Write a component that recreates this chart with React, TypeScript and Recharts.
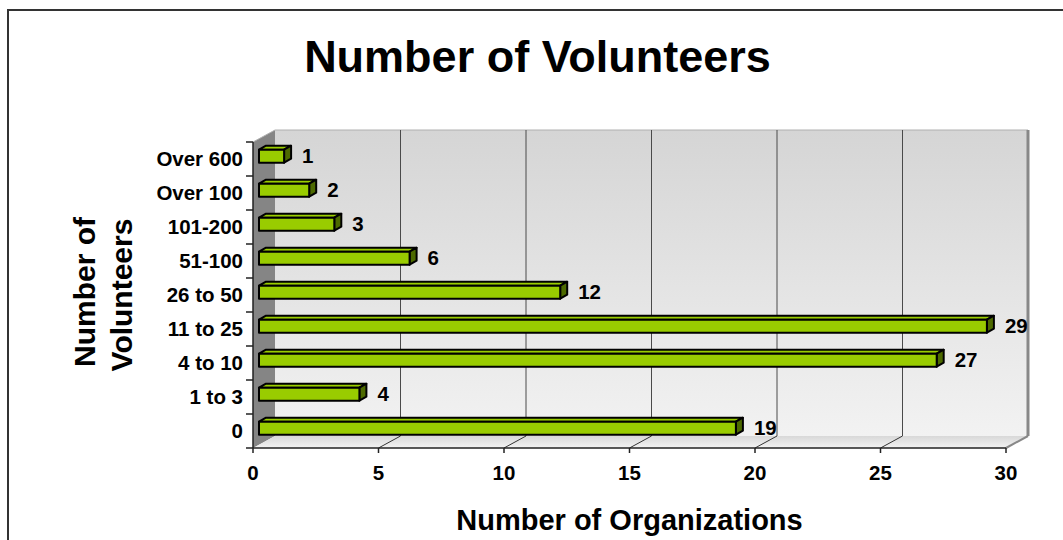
import { Bar, BarChart, CartesianGrid, LabelList, XAxis, YAxis } from 'recharts';

// Excel-style 3D horizontal bar chart, volunteers per organization.

const categories = ['Over 600', 'Over 100', '101-200', '51-100', '26 to 50', '11 to 25', '4 to 10', '1 to 3', '0'];
const organizations = [1, 2, 3, 6, 12, 29, 27, 4, 19];
const xTicks = [0, 5, 10, 15, 20, 25, 30];

const data = categories.map((range, i) => ({ range, count: organizations[i] }));

const FONT = '"Liberation Sans", Arial, Helvetica, sans-serif';
const W = 1063;
const H = 540;
const PLOT_LEFT = 253;
const PLOT_RIGHT = 1006;
const PLOT_TOP = 142;
const PLOT_BOTTOM = 448;
// depth of the walls
const DX = 22;
const DY = -12;
// bar front face sits a bit into the depth, and the bar itself has depth
const FACE_DX = 6;
const FACE_DY = -3.3;
const BAR_DX = 7;
const BAR_DY = -4;
const BAR_SIZE = 13;
const BAND_HALF = (PLOT_BOTTOM - PLOT_TOP) / categories.length / 2;
const LABEL_SIZE = 20.5;

function Walls({ left, right, top, bottom }: { left: number; right: number; top: number; bottom: number }) {
  return (
    <g>
      <defs>
        <linearGradient id="backWall" x1="0" y1="0" x2="0" y2="1">
          <stop offset="0" stopColor="#d5d5d5" />
          <stop offset="1" stopColor="#f2f2f2" />
        </linearGradient>
        <linearGradient id="floorFill" x1="0" y1="0" x2="0" y2="1">
          <stop offset="0" stopColor="#d8d8d8" />
          <stop offset="1" stopColor="#f3f3f3" />
        </linearGradient>
      </defs>
      <rect x={left + DX} y={top + DY} width={right - left} height={bottom - top} fill="url(#backWall)" />
      <polygon
        points={`${left},${top} ${left + DX},${top + DY} ${left + DX},${bottom + DY} ${left},${bottom}`}
        fill="#858585"
      />
      <polygon
        points={`${left},${bottom} ${right},${bottom} ${right + DX},${bottom + DY} ${left + DX},${bottom + DY}`}
        fill="url(#floorFill)"
      />
      <line x1={left} y1={top} x2={left + DX} y2={top + DY} stroke="#b0b0b0" />
      <line x1={left + DX} y1={top + DY} x2={right + DX} y2={top + DY} stroke="#b0b0b0" />
      <line x1={right + DX} y1={top + DY} x2={right + DX} y2={bottom + DY} stroke="#888" strokeWidth={3} />
      <line x1={right} y1={bottom} x2={right + DX} y2={bottom + DY} stroke="#888" strokeWidth={2} />
    </g>
  );
}

function GridLine(props: any) {
  const { x1, y1, y2 } = props;
  const isLeft = Math.abs(x1 - PLOT_LEFT) < 1;
  const isRight = Math.abs(x1 - PLOT_RIGHT) < 1;
  if (isLeft) return <Walls left={x1} right={PLOT_RIGHT} top={y1} bottom={y2} />;
  if (isRight) return <g />;
  return (
    <g>
      <line x1={x1 + DX} y1={y1 + DY} x2={x1 + DX} y2={y2 + DY} stroke="#4a4a4a" />
      <line x1={x1} y1={y2} x2={x1 + DX} y2={y2 + DY} stroke="#333" />
    </g>
  );
}

function Bar3D(props: any) {
  const { x, y, width } = props;
  if (x == null || !width) return null;
  const fx = x + FACE_DX;
  const fy = y + FACE_DY;
  const h = BAR_SIZE;
  const w = width;
  const stroke = { stroke: '#000', strokeWidth: 2, strokeLinejoin: 'round' as const };
  return (
    <g>
      <polygon
        points={`${fx},${fy} ${fx + BAR_DX},${fy + BAR_DY} ${fx + w + BAR_DX},${fy + BAR_DY} ${fx + w},${fy}`}
        fill="#9acd00"
        {...stroke}
      />
      <polygon
        points={`${fx + w},${fy} ${fx + w + BAR_DX},${fy + BAR_DY} ${fx + w + BAR_DX},${fy + h + BAR_DY} ${fx + w},${fy + h}`}
        fill="#4d6a00"
        {...stroke}
      />
      <rect x={fx} y={fy} width={w} height={h} fill="#99cc00" {...stroke} />
    </g>
  );
}

function ValueLabel(props: any) {
  const vb = props.viewBox || props;
  const x = vb.x ?? props.x;
  const y = vb.y ?? props.y;
  const width = vb.width ?? props.width;
  return (
    <text
      x={x + width + FACE_DX + BAR_DX + 11}
      y={y + 10}
      fontFamily={FONT}
      fontSize={LABEL_SIZE}
      fontWeight="bold"
      fill="#000"
    >
      {props.value}
    </text>
  );
}

function CategoryTick(props: any) {
  const { y, payload, index } = props;
  const last = index === categories.length - 1;
  return (
    <g>
      <line x1={PLOT_LEFT - 7} x2={PLOT_LEFT} y1={y - BAND_HALF} y2={y - BAND_HALF} stroke="#222" strokeWidth={1.5} />
      {last ? (
        <line x1={PLOT_LEFT - 7} x2={PLOT_LEFT} y1={y + BAND_HALF} y2={y + BAND_HALF} stroke="#222" strokeWidth={1.5} />
      ) : null}
      <text
        x={PLOT_LEFT - 10}
        y={y + 7}
        textAnchor="end"
        fontFamily={FONT}
        fontSize={LABEL_SIZE}
        fontWeight="bold"
        fill="#000"
      >
        {payload.value}
      </text>
    </g>
  );
}

function ValueTick(props: any) {
  const { x, payload } = props;
  return (
    <text
      x={x}
      y={PLOT_BOTTOM + 32}
      textAnchor="middle"
      fontFamily={FONT}
      fontSize={LABEL_SIZE}
      fontWeight="bold"
      fill="#000"
    >
      {payload.value}
    </text>
  );
}

function XTitle() {
  return (
    <text
      x={(PLOT_LEFT + PLOT_RIGHT) / 2}
      y={530}
      textAnchor="middle"
      fontFamily={FONT}
      fontSize={29}
      fontWeight="bold"
      fill="#000"
    >
      Number of Organizations
    </text>
  );
}

function YTitle() {
  const cy = (PLOT_TOP + PLOT_BOTTOM) / 2;
  const common = { textAnchor: 'middle' as const, fontFamily: FONT, fontSize: 30, fontWeight: 'bold', fill: '#000' };
  return (
    <g>
      <text x={95} y={cy - 3} transform={`rotate(-90, 95, ${cy - 3})`} {...common}>
        Number of
      </text>
      <text x={132} y={cy} transform={`rotate(-90, 132, ${cy})`} {...common}>
        Volunteers
      </text>
    </g>
  );
}

export default function App() {
  return (
    <div style={{ position: 'fixed', left: 0, top: 0, width: W, height: H, overflow: 'hidden', background: '#fff' }}>
      <div
        style={{
          position: 'absolute',
          left: 7,
          top: 9,
          width: 2000,
          height: 2000,
          borderLeft: '2px solid #333',
          borderTop: '2px solid #333',
        }}
      />
      <div
        style={{
          position: 'absolute',
          left: 0,
          top: 34,
          width: 1075,
          textAlign: 'center',
          fontFamily: FONT,
          fontSize: 45,
          lineHeight: '45px',
          fontWeight: 'bold',
          color: '#000',
        }}
      >
        Number of Volunteers
      </div>
      <div style={{ position: 'absolute', left: 0, top: 0 }}>
        <BarChart
          width={W}
          height={H}
          data={data}
          layout="vertical"
          margin={{ top: PLOT_TOP, right: W - PLOT_RIGHT, bottom: 0, left: 0 }}
        >
          <CartesianGrid horizontal={false} vertical={GridLine} />
          <XAxis
            type="number"
            domain={[0, 30]}
            ticks={xTicks}
            interval={0}
            height={H - PLOT_BOTTOM}
            tick={ValueTick}
            tickSize={5}
            tickLine={{ stroke: '#222', strokeWidth: 1.5 }}
            axisLine={{ stroke: '#222', strokeWidth: 1.5 }}
            label={{ content: XTitle }}
          />
          <YAxis
            type="category"
            dataKey="range"
            width={PLOT_LEFT}
            tick={CategoryTick}
            tickLine={false}
            axisLine={{ stroke: '#222', strokeWidth: 1.5 }}
            label={{ content: YTitle }}
          />
          <Bar dataKey="count" barSize={BAR_SIZE} shape={Bar3D} isAnimationActive={false}>
            <LabelList dataKey="count" content={ValueLabel} />
          </Bar>
        </BarChart>
      </div>
    </div>
  );
}
